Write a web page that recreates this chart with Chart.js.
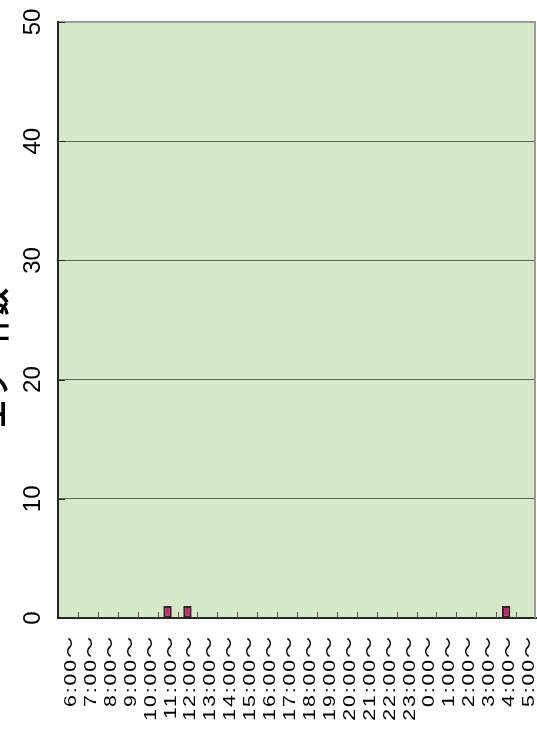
<!DOCTYPE html>
<html>
<head>
<meta charset="utf-8">
<script src="https://cdn.jsdelivr.net/npm/chart.js@4.4.1/dist/chart.umd.min.js"></script>
<style>
  html, body { margin: 0; padding: 0; background: #fff; }
  #wrap { width: 537px; height: 731px; }
</style>
</head>
<body>
<div id="wrap"><canvas id="errChart" width="537" height="731"></canvas></div>
<script>
const hours = ['6:00～', '7:00～', '8:00～', '9:00～', '10:00～', '11:00～', '12:00～', '13:00～',
    '14:00～', '15:00～', '16:00～', '17:00～', '18:00～', '19:00～', '20:00～', '21:00～',
    '22:00～', '23:00～', '0:00～', '1:00～', '2:00～', '3:00～', '4:00～', '5:00～'];
const counts = [0, 0, 0, 0, 0, 1, 1, 0, 0, 0, 0, 0, 0, 0, 0, 0, 0, 0, 0, 0, 0, 0, 1, 0];
const yTicks = [0, 10, 20, 30, 40, 50];
const yTitle = 'エラー件数';

const plotBg = '#d6e8c8';
const gridColor = '#5b6651';
const axisColor = '#262626';

// background, inner tick marks, rotated labels
const extras = {
    id: 'extras',
    beforeDraw(chart) {
        const { ctx, chartArea: a } = chart;
        ctx.save();
        ctx.fillStyle = plotBg;
        ctx.fillRect(a.left, a.top, a.right - a.left, a.bottom - a.top);
        ctx.restore();
    },
    afterDraw(chart) {
        const { ctx, chartArea: a } = chart;
        const xs = chart.scales.x;
        const ys = chart.scales.y;
        ctx.save();

        // right border
        ctx.strokeStyle = '#9a9a9a';
        ctx.lineWidth = 2;
        ctx.beginPath();
        ctx.moveTo(a.right - 1, a.top);
        ctx.lineTo(a.right - 1, a.bottom);
        ctx.stroke();

        // small ticks on the x axis, between categories
        ctx.strokeStyle = '#555';
        ctx.lineWidth = 1;
        for (let i = 1; i < hours.length; i++) {
            const x = Math.round((xs.getPixelForValue(i - 1) + xs.getPixelForValue(i)) / 2) + 0.5;
            ctx.beginPath();
            ctx.moveTo(x, a.bottom);
            ctx.lineTo(x, a.bottom - 6);
            ctx.stroke();
        }
        // small ticks on the y axis
        ctx.strokeStyle = axisColor;
        yTicks.forEach(v => {
            const y = Math.round(ys.getPixelForValue(v)) + 0.5;
            ctx.beginPath();
            ctx.moveTo(a.left, y);
            ctx.lineTo(a.left + 7, y);
            ctx.stroke();
        });

        ctx.fillStyle = '#000';

        // y tick labels, rotated
        ctx.font = '24px "Liberation Sans", Arial, sans-serif';
        ctx.textAlign = 'center';
        ctx.textBaseline = 'alphabetic';
        yTicks.forEach(v => {
            ctx.save();
            ctx.translate(40, ys.getPixelForValue(v));
            ctx.rotate(-Math.PI / 2);
            ctx.fillText(String(v), 0, 0);
            ctx.restore();
        });

        // x tick labels, rotated and widened
        ctx.font = '17px "Liberation Sans", "Noto Sans CJK JP", sans-serif';
        ctx.textAlign = 'right';
        ctx.letterSpacing = '1.5px';
        hours.forEach((h, i) => {
            ctx.save();
            ctx.translate(xs.getPixelForValue(i) + 8, a.bottom + 17);
            ctx.rotate(-Math.PI / 2);
            ctx.scale(1.25, 1);
            ctx.fillText(h, 0, 0);
            ctx.restore();
        });
        ctx.letterSpacing = '0px';

        // y axis title (partly outside the canvas)
        ctx.font = 'bold 28px "Noto Sans CJK JP", sans-serif';
        ctx.textAlign = 'center';
        ctx.textBaseline = 'bottom';
        ctx.translate(9, 358);
        ctx.rotate(-Math.PI / 2);
        ctx.fillText(yTitle, 0, 0);

        ctx.restore();
    }
};

const ctxBar = document.getElementById('errChart').getContext('2d');
const errChart = new Chart(ctxBar, {
    type: 'bar',
    data: {
        labels: hours,
        datasets: [{
            data: counts,
            backgroundColor: '#b3306c',
            borderColor: '#3a1e28',
            borderWidth: c => (c.raw ? 2 : 0),
            borderSkipped: false,
            categoryPercentage: 1,
            barPercentage: 0.42
        }]
    },
    options: {
        responsive: false,
        animation: false,
        layout: { padding: { left: 58, top: 22, right: 1, bottom: 113 } },
        plugins: {
            legend: { display: false },
            tooltip: { enabled: false }
        },
        scales: {
            x: {
                ticks: { display: false },
                grid: { display: true, drawOnChartArea: false, drawTicks: false },
                border: { display: true, color: axisColor, width: 2 }
            },
            y: {
                min: 0,
                max: 50,
                ticks: { display: false, stepSize: 10 },
                grid: {
                    drawTicks: false,
                    color: c => (c.tick && c.tick.value === 50 ? '#9a9a9a' : gridColor),
                    lineWidth: c => (c.tick && c.tick.value === 50 ? 2 : 1)
                },
                border: { display: true, color: axisColor, width: 2 }
            }
        }
    },
    plugins: [extras]
});
</script>
</body>
</html>
